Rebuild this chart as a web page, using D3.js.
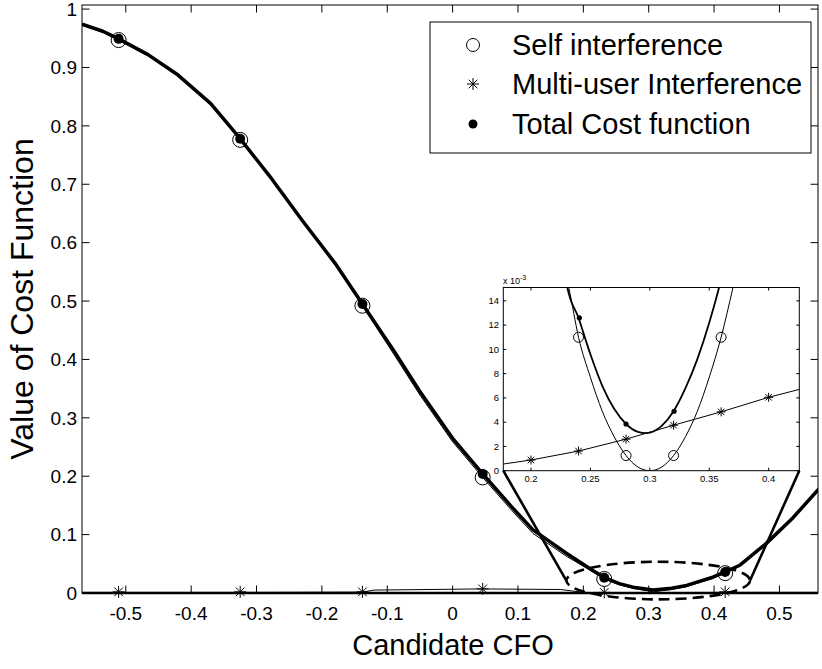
<!DOCTYPE html>
<html>
<head>
<meta charset="utf-8">
<script src="https://cdn.jsdelivr.net/npm/d3@7"></script>
<style>
  html, body { margin: 0; padding: 0; background: #fff; }
  svg { display: block; }
  text { font-family: "Liberation Sans", Arial, Helvetica, sans-serif; fill: #000; }
</style>
</head>
<body>
<svg id="chart" width="822" height="669"></svg>
<script>
// ---- Main plot: cost function versus candidate CFO ----
const curveCfo   = [-0.567, -0.535, -0.511, -0.466, -0.42, -0.37, -0.325, -0.28, -0.23, -0.18, -0.138, -0.09, -0.05, 0.0, 0.046, 0.09, 0.123, 0.174, 0.215, 0.233, 0.255, 0.276, 0.307, 0.335, 0.358, 0.398, 0.417, 0.44, 0.48, 0.52, 0.56];
const totalCurve = [0.974, 0.962, 0.949, 0.922, 0.887, 0.838, 0.778, 0.714, 0.638, 0.565, 0.495, 0.415, 0.345, 0.265, 0.204, 0.148, 0.108, 0.068, 0.038, 0.026, 0.016, 0.010, 0.005, 0.008, 0.013, 0.027, 0.036, 0.048, 0.085, 0.128, 0.178];
const selfCurve  = [0.972, 0.960, 0.947, 0.920, 0.885, 0.836, 0.776, 0.712, 0.636, 0.563, 0.492, 0.409, 0.339, 0.259, 0.198, 0.142, 0.102, 0.063, 0.036, 0.024, 0.014, 0.008, 0.002, 0.006, 0.011, 0.025, 0.034, 0.046, 0.083, 0.126, 0.176];
const multiCfo   = [-0.567, -0.511, -0.325, -0.138, -0.12, 0.046, 0.165, 0.2, 0.232, 0.417, 0.559];
const multiCurve = [0.001, 0.001, 0.001, 0.0015, 0.005, 0.007, 0.006, 0.001, 0.0005, 0.001, 0.001];

// Candidate CFO values where the cost function was evaluated
const markerCfo   = [-0.511, -0.325, -0.138, 0.046, 0.232, 0.417];
const selfMarks   = [0.947, 0.776, 0.492, 0.198, 0.024, 0.034];
const multiMarks  = [0.002, 0.002, 0.002, 0.007, 0.001, 0.002];
const totalMarks  = [0.949, 0.778, 0.495, 0.204, 0.026, 0.036];

const xTicks = [-0.5, -0.4, -0.3, -0.2, -0.1, 0, 0.1, 0.2, 0.3, 0.4, 0.5];
const yTicks = [0, 0.1, 0.2, 0.3, 0.4, 0.5, 0.6, 0.7, 0.8, 0.9, 1];

// ---- Zoomed view around the minimum ----
const insetCfo      = [0.1767, 0.2, 0.24, 0.28, 0.32, 0.36, 0.4, 0.4258];
const insetMulti    = [0.00055, 0.00088, 0.00162, 0.0026, 0.00375, 0.00485, 0.00605, 0.0067];
const insetSelfCfo  = [0.226, 0.232, 0.24, 0.25, 0.26, 0.27, 0.28, 0.29, 0.30, 0.31, 0.32, 0.33, 0.34, 0.35, 0.36, 0.37, 0.376];
const insetSelf     = [0.0174, 0.0150, 0.0110, 0.0077, 0.0049, 0.0028, 0.00125, 0.0003, 0.0, 0.0003, 0.00125, 0.0028, 0.0049, 0.0077, 0.0110, 0.0151, 0.0177];
const insetTotalCfo = [0.226, 0.23, 0.24, 0.25, 0.26, 0.27, 0.28, 0.29, 0.297, 0.31, 0.32, 0.33, 0.34, 0.35, 0.36, 0.364];
const insetTotal    = [0.0186, 0.0154, 0.0126, 0.0096, 0.0070, 0.0051, 0.00385, 0.0032, 0.0031, 0.0037, 0.0049, 0.0068, 0.0092, 0.0122, 0.0158, 0.0176];
const insetMarkCfo   = [0.2, 0.24, 0.28, 0.32, 0.36, 0.4];
const insetMultiMark = [0.00088, 0.00162, 0.0026, 0.00375, 0.00485, 0.00605];
const insetSelfMarkCfo = [0.24, 0.28, 0.32, 0.36];
const insetSelfMark    = [0.011, 0.00125, 0.00125, 0.011];
const insetTotalMarkCfo = [0.2407, 0.28, 0.3204];
const insetTotalMark    = [0.0126, 0.00385, 0.0049];
const insetXTicks = [0.2, 0.25, 0.3, 0.35, 0.4];
const insetYTicks = [0, 2, 4, 6, 8, 10, 12, 14];   // in units of 1e-3

// Region of the main plot shown in the zoomed view (data units)
const zoomCenter = { cfo: 0.3145, value: 0.0213 };
const zoomRadius = { cfo: 0.1405, value: 0.0322 };

const legendItems = ["Self interference", "Multi-user Interference", "Total Cost function"];

// ---------------------------------------------------------------
const svg = d3.select("#chart");

const x = d3.scaleLinear().domain([-0.567, 0.559]).range([82, 818]);
const y = d3.scaleLinear().domain([0, 1.007]).range([593, 5]);

const [px0, px1] = x.range();
const [py0, py1] = y.range();
const fmt = d => String(d);   // plain hyphen-minus labels

// star marker (asterisk made of four strokes)
function starPath(s) {
  const d = s * 0.72;
  return `M0,${-s}L0,${s}M${-s},0L${s},0M${-d},${-d}L${d},${d}M${-d},${d}L${d},${-d}`;
}

// frame
svg.append("rect").attr("x", px0).attr("y", py1).attr("width", px1 - px0).attr("height", py0 - py1)
  .attr("fill", "#fff").attr("stroke", "#000").attr("stroke-width", 1);

// ticks on all four sides, pointing inward
const tickLen = 7.5;
const axisG = svg.append("g").attr("stroke", "#000").attr("stroke-width", 1);
xTicks.forEach(t => {
  axisG.append("line").attr("x1", x(t)).attr("x2", x(t)).attr("y1", py0).attr("y2", py0 - tickLen);
  axisG.append("line").attr("x1", x(t)).attr("x2", x(t)).attr("y1", py1).attr("y2", py1 + tickLen);
});
yTicks.forEach(t => {
  axisG.append("line").attr("x1", px0).attr("x2", px0 + tickLen).attr("y1", y(t)).attr("y2", y(t));
  axisG.append("line").attr("x1", px1).attr("x2", px1 - tickLen).attr("y1", y(t)).attr("y2", y(t));
});

svg.append("g").selectAll("text").data(xTicks).join("text")
  .attr("x", d => x(d)).attr("y", 619.5)
  .attr("text-anchor", "middle").attr("font-size", 19)
  .text(fmt);
svg.append("g").selectAll("text").data(yTicks).join("text")
  .attr("x", 77).attr("y", d => y(d)).attr("dy", "0.36em")
  .attr("text-anchor", "end").attr("font-size", 19)
  .text(fmt);

svg.append("text").attr("x", 453).attr("y", 655).attr("text-anchor", "middle")
  .attr("font-size", 29).text("Candidate CFO");
svg.append("text").attr("transform", "translate(33,299) rotate(-90)").attr("text-anchor", "middle")
  .attr("font-size", 32).text("Value of Cost Function");

// curves, clipped to the plot box
svg.append("clipPath").attr("id", "mainClip").append("rect")
  .attr("x", px0).attr("y", py1).attr("width", px1 - px0).attr("height", py0 - py1);
const plotG = svg.append("g").attr("clip-path", "url(#mainClip)");

const line = d3.line().x(d => x(d[0])).y(d => y(d[1]));
plotG.append("path").datum(d3.zip(multiCfo, multiCurve)).attr("d", line)
  .attr("fill", "none").attr("stroke", "#000").attr("stroke-width", 1);
plotG.append("path").datum(d3.zip(curveCfo, selfCurve)).attr("d", line)
  .attr("fill", "none").attr("stroke", "#000").attr("stroke-width", 1);
plotG.append("path").datum(d3.zip(curveCfo, totalCurve)).attr("d", line)
  .attr("fill", "none").attr("stroke", "#000").attr("stroke-width", 3.5).attr("stroke-linejoin", "round");

// bottom edge drawn heavier where the near-zero curve runs along it
svg.append("line").attr("x1", px0).attr("x2", px1).attr("y1", py0).attr("y2", py0)
  .attr("stroke", "#000").attr("stroke-width", 2.5);

// markers
const markG = svg.append("g");
markerCfo.forEach((c, i) => {
  markG.append("path").attr("d", starPath(6)).attr("transform", `translate(${x(c)},${y(multiMarks[i])})`)
    .attr("stroke", "#000").attr("stroke-width", 1).attr("fill", "none");
  markG.append("circle").attr("cx", x(c)).attr("cy", y(selfMarks[i])).attr("r", 7.5)
    .attr("fill", "none").attr("stroke", "#000").attr("stroke-width", 1);
  markG.append("circle").attr("cx", x(c)).attr("cy", y(totalMarks[i])).attr("r", 5)
    .attr("fill", "#000");
});

// legend
const lg = svg.append("g");
lg.append("rect").attr("x", 430).attr("y", 22).attr("width", 381).attr("height", 131)
  .attr("fill", "#fff").attr("stroke", "#000").attr("stroke-width", 1);
const legendY = [45, 84, 124];
legendItems.forEach((t, i) => {
  lg.append("text").attr("x", 512).attr("y", legendY[i]).attr("dy", "0.36em")
    .attr("font-size", 29).text(t);
});
lg.append("circle").attr("cx", 473).attr("cy", legendY[0]).attr("r", 6.5)
  .attr("fill", "none").attr("stroke", "#000").attr("stroke-width", 1);
lg.append("path").attr("d", starPath(6)).attr("transform", `translate(473,${legendY[1]})`)
  .attr("stroke", "#000").attr("stroke-width", 1);
lg.append("circle").attr("cx", 473).attr("cy", legendY[2]).attr("r", 4.5).attr("fill", "#000");

// ---- zoomed view ----
const xi = d3.scaleLinear().domain([0.1767, 0.4258]).range([503.3, 799.3]);
const yi = d3.scaleLinear().domain([0, 0.0151]).range([470.7, 287.5]);
const [ix0, ix1] = xi.range();
const [iy0, iy1] = yi.range();

// dashed ellipse marking the zoomed region and connectors to the view
const ex = x(zoomCenter.cfo), ey = y(zoomCenter.value);
const erx = x(zoomCenter.cfo + zoomRadius.cfo) - ex;
const ery = ey - y(zoomCenter.value + zoomRadius.value);
svg.append("ellipse").attr("cx", ex).attr("cy", ey).attr("rx", erx).attr("ry", ery)
  .attr("fill", "none").attr("stroke", "#000").attr("stroke-width", 2.6).attr("stroke-dasharray", "11,6");
svg.append("line").attr("x1", ex - erx).attr("y1", ey).attr("x2", ix0).attr("y2", iy0)
  .attr("stroke", "#000").attr("stroke-width", 2.6);
svg.append("line").attr("x1", ex + erx).attr("y1", ey).attr("x2", ix1).attr("y2", iy0)
  .attr("stroke", "#000").attr("stroke-width", 2.6);

const ig = svg.append("g");
ig.append("rect").attr("x", ix0).attr("y", iy1).attr("width", ix1 - ix0).attr("height", iy0 - iy1)
  .attr("fill", "#fff").attr("stroke", "none");

svg.append("clipPath").attr("id", "insetClip").append("rect")
  .attr("x", ix0).attr("y", iy1).attr("width", ix1 - ix0).attr("height", iy0 - iy1);
const icg = ig.append("g").attr("clip-path", "url(#insetClip)");
const iline = d3.line().x(d => xi(d[0])).y(d => yi(d[1]));
icg.append("path").datum(d3.zip(insetCfo, insetMulti)).attr("d", iline)
  .attr("fill", "none").attr("stroke", "#000").attr("stroke-width", 1);
icg.append("path").datum(d3.zip(insetSelfCfo, insetSelf)).attr("d", iline.curve(d3.curveMonotoneX))
  .attr("fill", "none").attr("stroke", "#000").attr("stroke-width", 1);
icg.append("path").datum(d3.zip(insetTotalCfo, insetTotal)).attr("d", iline.curve(d3.curveMonotoneX))
  .attr("fill", "none").attr("stroke", "#000").attr("stroke-width", 1.8);

insetMarkCfo.forEach((c, i) => {
  icg.append("path").attr("d", starPath(4.5)).attr("transform", `translate(${xi(c)},${yi(insetMultiMark[i])})`)
    .attr("stroke", "#000").attr("stroke-width", 1);
});
insetSelfMarkCfo.forEach((c, i) => {
  icg.append("circle").attr("cx", xi(c)).attr("cy", yi(insetSelfMark[i])).attr("r", 5)
    .attr("fill", "none").attr("stroke", "#000").attr("stroke-width", 1);
});
insetTotalMarkCfo.forEach((c, i) => {
  icg.append("circle").attr("cx", xi(c)).attr("cy", yi(insetTotalMark[i])).attr("r", 2.6).attr("fill", "#000");
});

ig.append("rect").attr("x", ix0).attr("y", iy1).attr("width", ix1 - ix0).attr("height", iy0 - iy1)
  .attr("fill", "none").attr("stroke", "#000").attr("stroke-width", 1);
const iTick = 3;
insetXTicks.forEach(t => {
  ig.append("line").attr("x1", xi(t)).attr("x2", xi(t)).attr("y1", iy0).attr("y2", iy0 - iTick).attr("stroke", "#000");
  ig.append("line").attr("x1", xi(t)).attr("x2", xi(t)).attr("y1", iy1).attr("y2", iy1 + iTick).attr("stroke", "#000");
  ig.append("text").attr("x", xi(t)).attr("y", 482).attr("text-anchor", "middle")
    .attr("font-size", 9.5).attr("fill", "#222").text(fmt(t));
});
insetYTicks.forEach(t => {
  ig.append("line").attr("x1", ix0).attr("x2", ix0 + iTick).attr("y1", yi(t * 1e-3)).attr("y2", yi(t * 1e-3)).attr("stroke", "#000");
  ig.append("line").attr("x1", ix1).attr("x2", ix1 - iTick).attr("y1", yi(t * 1e-3)).attr("y2", yi(t * 1e-3)).attr("stroke", "#000");
  ig.append("text").attr("x", 499).attr("y", yi(t * 1e-3)).attr("dy", "0.35em").attr("text-anchor", "end")
    .attr("font-size", 9.5).attr("fill", "#222").text(t);
});
const expo = ig.append("text").attr("x", 503).attr("y", 283.5).attr("font-size", 9).attr("fill", "#222");
expo.append("tspan").text("x 10");
expo.append("tspan").attr("dy", -4).attr("font-size", 7).text("-3");
</script>
</body>
</html>
